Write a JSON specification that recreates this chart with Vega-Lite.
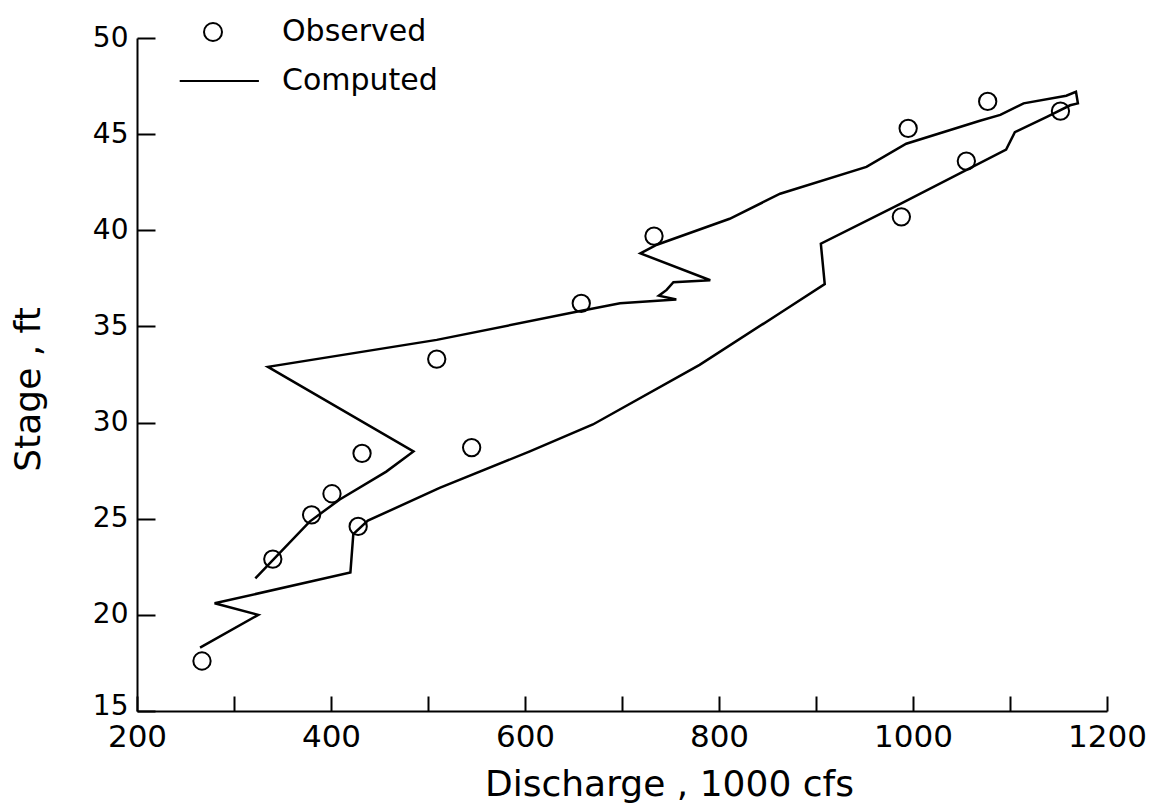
{
  "$schema": "https://vega.github.io/schema/vega-lite/v6.json",
  "width": 970,
  "height": 673,
  "autosize": {"type": "none"},
  "padding": {"left": 137, "top": 38, "right": 45, "bottom": 97},
  "background": "white",
  "config": {
    "view": {"stroke": null},
    "font": "DejaVu Sans",
    "axis": {
      "grid": false,
      "domainColor": "black",
      "domainWidth": 2,
      "tickColor": "black",
      "tickWidth": 2,
      "labelColor": "black",
      "labelFont": "DejaVu Sans",
      "labelFlush": false,
      "labelOverlap": false,
      "titleColor": "black",
      "titleFont": "DejaVu Sans",
      "titleFontWeight": "normal"
    }
  },
  "datasets": {
    "observed": [
      {"discharge": 267, "stage": 17.6, "series": "Observed"},
      {"discharge": 340, "stage": 22.9, "series": "Observed"},
      {"discharge": 380, "stage": 25.2, "series": "Observed"},
      {"discharge": 401, "stage": 26.3, "series": "Observed"},
      {"discharge": 432, "stage": 28.4, "series": "Observed"},
      {"discharge": 428, "stage": 24.6, "series": "Observed"},
      {"discharge": 545, "stage": 28.7, "series": "Observed"},
      {"discharge": 509, "stage": 33.3, "series": "Observed"},
      {"discharge": 658, "stage": 36.2, "series": "Observed"},
      {"discharge": 733, "stage": 39.7, "series": "Observed"},
      {"discharge": 995, "stage": 45.3, "series": "Observed"},
      {"discharge": 1077, "stage": 46.7, "series": "Observed"},
      {"discharge": 1055, "stage": 43.6, "series": "Observed"},
      {"discharge": 988, "stage": 40.7, "series": "Observed"},
      {"discharge": 1152, "stage": 46.2, "series": "Observed"}
    ],
    "computed": [
      {"step": 1, "discharge": 265, "stage": 18.3},
      {"step": 2, "discharge": 325, "stage": 20.0},
      {"step": 3, "discharge": 280, "stage": 20.6},
      {"step": 4, "discharge": 420, "stage": 22.2},
      {"step": 5, "discharge": 423, "stage": 24.2},
      {"step": 6, "discharge": 438, "stage": 24.9},
      {"step": 7, "discharge": 512, "stage": 26.6},
      {"step": 8, "discharge": 605, "stage": 28.5},
      {"step": 9, "discharge": 670, "stage": 29.9},
      {"step": 10, "discharge": 780, "stage": 33.0},
      {"step": 11, "discharge": 863, "stage": 35.7},
      {"step": 12, "discharge": 909, "stage": 37.2},
      {"step": 13, "discharge": 905, "stage": 39.3},
      {"step": 14, "discharge": 988, "stage": 41.4},
      {"step": 15, "discharge": 1096, "stage": 44.2},
      {"step": 16, "discharge": 1105, "stage": 45.1},
      {"step": 17, "discharge": 1138, "stage": 45.9},
      {"step": 18, "discharge": 1162, "stage": 46.5},
      {"step": 19, "discharge": 1170, "stage": 46.6},
      {"step": 20, "discharge": 1168, "stage": 47.2},
      {"step": 21, "discharge": 1158, "stage": 47.0},
      {"step": 22, "discharge": 1114, "stage": 46.6},
      {"step": 23, "discharge": 1090, "stage": 46.0},
      {"step": 24, "discharge": 1069, "stage": 45.7},
      {"step": 25, "discharge": 993, "stage": 44.5},
      {"step": 26, "discharge": 952, "stage": 43.3},
      {"step": 27, "discharge": 863, "stage": 41.9},
      {"step": 28, "discharge": 811, "stage": 40.6},
      {"step": 29, "discharge": 736, "stage": 39.25},
      {"step": 30, "discharge": 719, "stage": 38.8},
      {"step": 31, "discharge": 791, "stage": 37.4},
      {"step": 32, "discharge": 753, "stage": 37.3},
      {"step": 33, "discharge": 746, "stage": 36.9},
      {"step": 34, "discharge": 738, "stage": 36.6},
      {"step": 35, "discharge": 756, "stage": 36.4},
      {"step": 36, "discharge": 698, "stage": 36.2},
      {"step": 37, "discharge": 657, "stage": 35.8},
      {"step": 38, "discharge": 509, "stage": 34.3},
      {"step": 39, "discharge": 335, "stage": 32.9},
      {"step": 40, "discharge": 485, "stage": 28.5},
      {"step": 41, "discharge": 457, "stage": 27.45},
      {"step": 42, "discharge": 409, "stage": 26.0},
      {"step": 43, "discharge": 378, "stage": 24.85},
      {"step": 44, "discharge": 322, "stage": 21.9}
    ]
  },
  "layer": [
    {
      "data": {"name": "computed"},
      "mark": {"type": "line", "color": "black", "strokeWidth": 2.5, "strokeJoin": "miter"},
      "encoding": {
        "x": {
          "field": "discharge",
          "type": "quantitative",
          "scale": {"domain": [200, 1200], "nice": false, "zero": false},
          "axis": {
            "title": "Discharge ,  1000 cfs",
            "values": [200, 300, 400, 500, 600, 700, 800, 900, 1000, 1100, 1200],
            "format": "d",
            "labelExpr": "datum.value % 200 === 0 ? datum.label : ''",
            "tickSize": -15,
            "labelPadding": 26,
            "labelDx": 7,
            "labelFontSize": 31,
            "titleFontSize": 36,
            "titleX": 532,
            "titleY": 84,
            "titleBaseline": "alphabetic",
            "titleAlign": "center"
          }
        },
        "y": {
          "field": "stage",
          "type": "quantitative",
          "scale": {"domain": [15, 50], "nice": false, "zero": false},
          "axis": {
            "title": "Stage , ft",
            "values": [15, 20, 25, 30, 35, 40, 45, 50],
            "tickSize": -18,
            "labelPadding": 27,
            "labelFontSize": 28,
            "labelOffset": {"condition": {"test": "datum.value === 15", "value": -5}, "value": 0},
            "titleFontSize": 36,
            "titleX": -98,
            "titleY": 351,
            "titleBaseline": "alphabetic",
            "titleAlign": "center",
            "titleAngle": 270
          }
        },
        "order": {"field": "step", "type": "quantitative"}
      }
    },
    {
      "data": {"name": "observed"},
      "mark": {"type": "point", "filled": false, "color": "black", "strokeWidth": 2, "size": 300, "opacity": 1},
      "encoding": {
        "x": {"field": "discharge", "type": "quantitative"},
        "y": {"field": "stage", "type": "quantitative"},
        "shape": {
          "field": "series",
          "type": "nominal",
          "scale": {"domain": ["Observed", "Computed"], "range": ["circle", "M-3.7,0H5.1"]},
          "legend": {
            "orient": "none",
            "legendX": 61,
            "legendY": -21,
            "title": null,
            "padding": 0,
            "labelFontSize": 30,
            "labelFont": "DejaVu Sans",
            "labelColor": "black",
            "labelOffset": 54,
            "symbolSize": 324,
            "symbolStrokeWidth": 2,
            "symbolStrokeColor": "black",
            "symbolFillColor": "transparent",
            "rowPadding": 19
          }
        }
      }
    }
  ]
}
